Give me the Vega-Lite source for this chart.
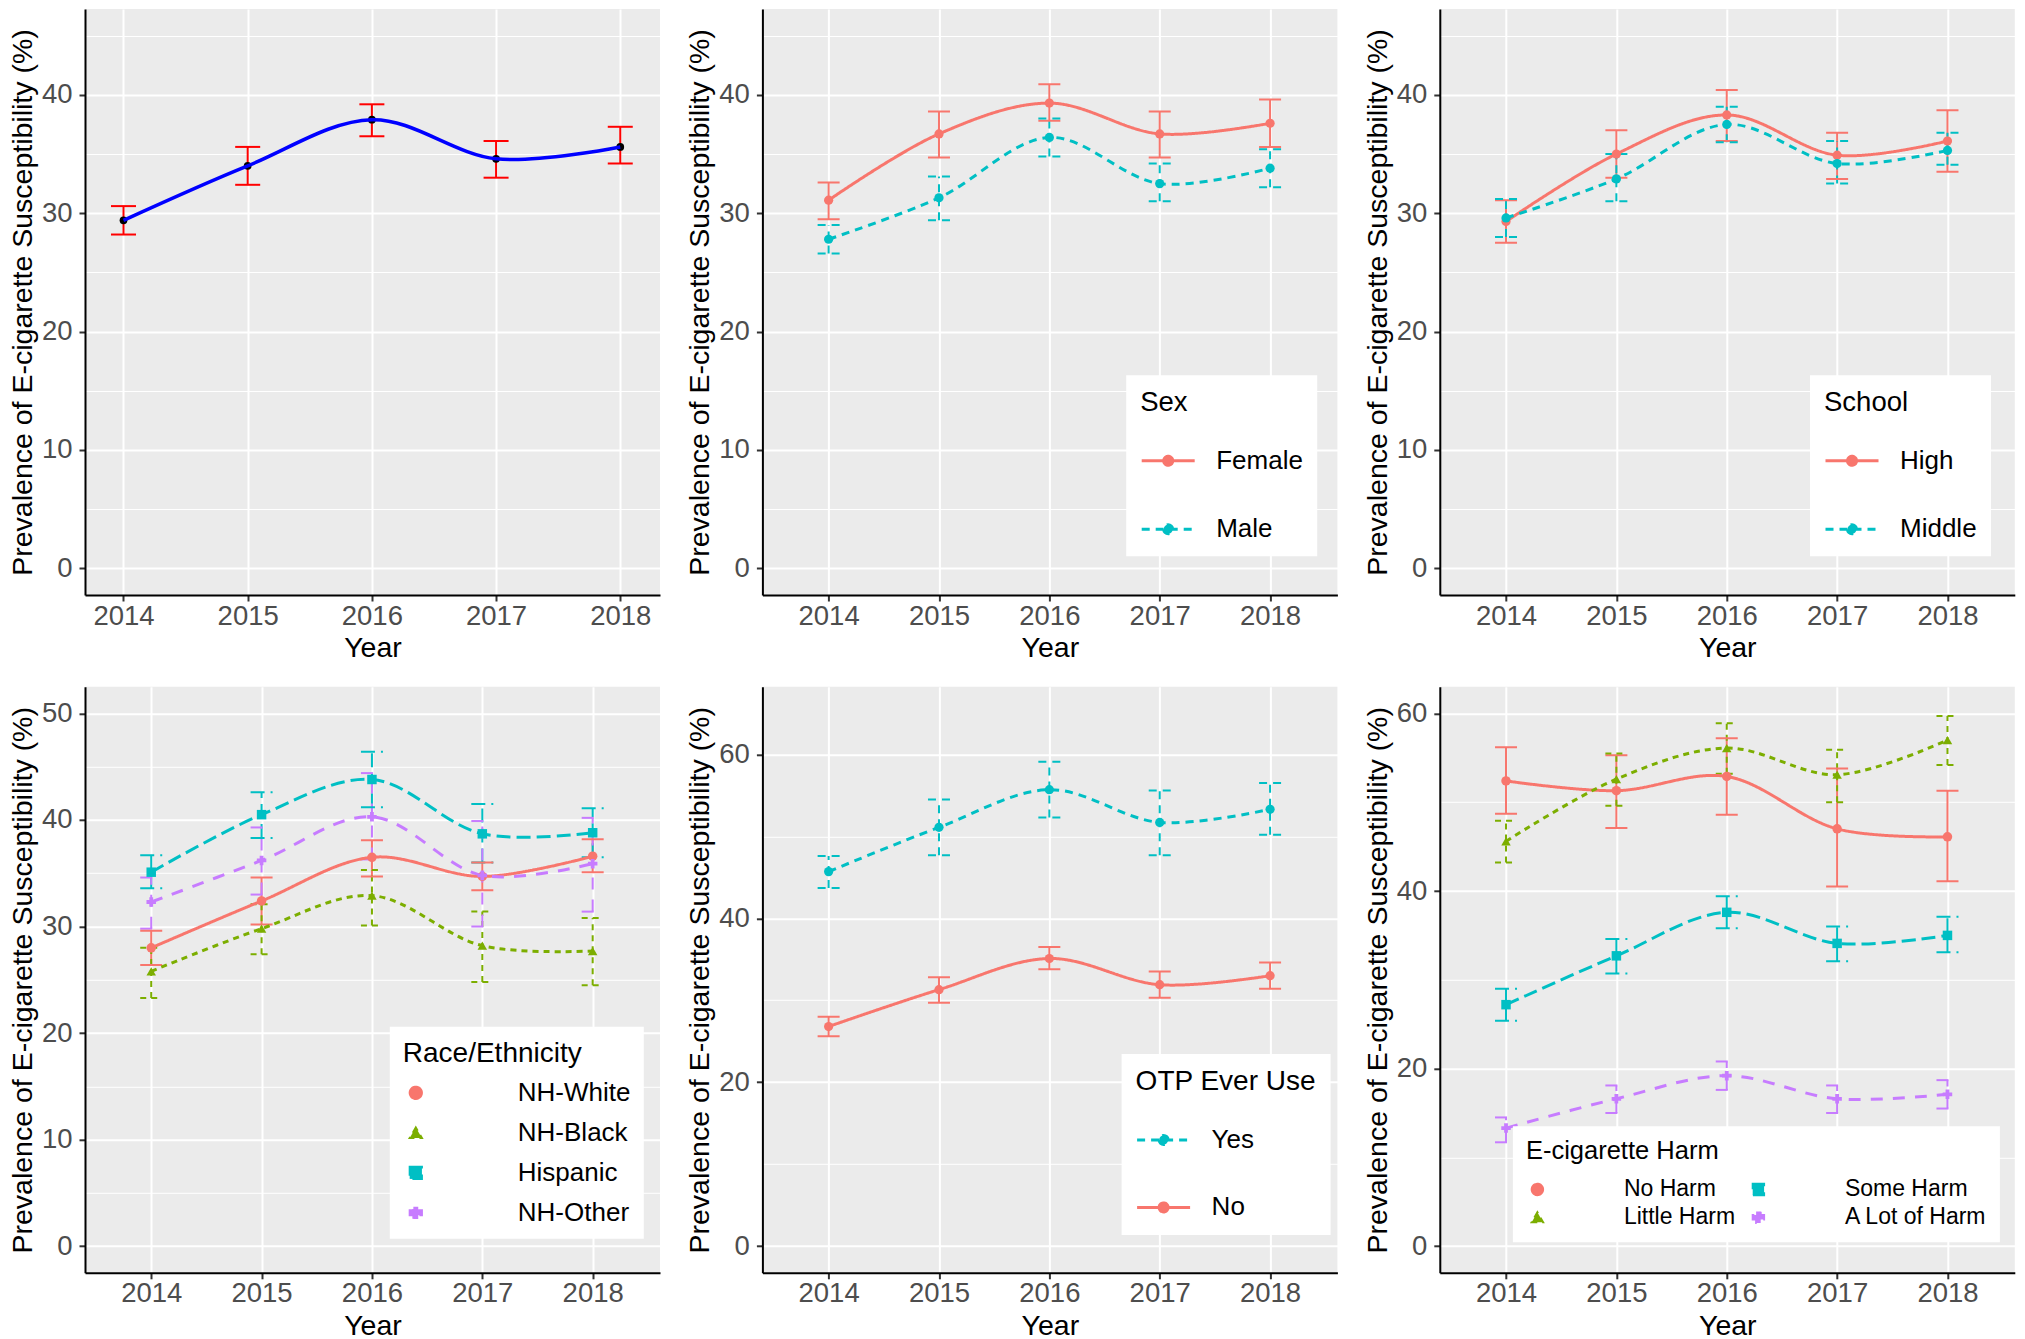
{
  "$schema": "https://vega.github.io/schema/vega-lite/v6.json",
  "background": "white",
  "padding": {"left": 8, "top": 9, "right": 10, "bottom": 2},
  "config": {
    "font": "Liberation Sans",
    "view": {"fill": "#EBEBEB", "stroke": null},
    "axis": {
      "domainColor": "black", "domainWidth": 2,
      "tickColor": "#333333", "tickSize": 6, "tickWidth": 2,
      "labelFontSize": 27.5, "labelColor": "#4D4D4D", "labelPadding": 7, "labelFont": "Liberation Sans",
      "titleFontSize": 28.5, "titleFontWeight": "normal", "titleColor": "black", "titleFont": "Liberation Sans",
      "gridColor": "white", "labelFlush": false, "labelOverlap": false
    },
    "axisX": {"titlePadding": 4, "labelPadding": 1},
    "axisY": {"titlePadding": 4},
    "legend": {
      "fillColor": "white", "titleFontWeight": "normal", "titleColor": "black", "labelColor": "black",
      "titleFont": "Liberation Sans", "labelFont": "Liberation Sans", "titleFontSize": 27.5, "labelFontSize": 26,
      "titleLimit": 600, "labelLimit": 600, "direction": "vertical", "symbolOpacity": 1
    }
  },
  "datasets": {
    "overall": [
      {"year": 2014, "est": 29.4, "lo": 28.2, "hi": 30.6},
      {"year": 2015, "est": 34.0, "lo": 32.4, "hi": 35.6},
      {"year": 2016, "est": 37.9, "lo": 36.5, "hi": 39.2},
      {"year": 2017, "est": 34.6, "lo": 33.0, "hi": 36.1},
      {"year": 2018, "est": 35.6, "lo": 34.2, "hi": 37.3}
    ],
    "sex": [
      {"group": "Female", "year": 2014, "est": 31.1, "lo": 29.5, "hi": 32.6},
      {"group": "Female", "year": 2015, "est": 36.7, "lo": 34.7, "hi": 38.6},
      {"group": "Female", "year": 2016, "est": 39.3, "lo": 37.8, "hi": 40.9},
      {"group": "Female", "year": 2017, "est": 36.7, "lo": 34.7, "hi": 38.6},
      {"group": "Female", "year": 2018, "est": 37.6, "lo": 35.6, "hi": 39.6},
      {"group": "Male", "year": 2014, "est": 27.8, "lo": 26.6, "hi": 29.0},
      {"group": "Male", "year": 2015, "est": 31.3, "lo": 29.4, "hi": 33.1},
      {"group": "Male", "year": 2016, "est": 36.4, "lo": 34.8, "hi": 38.0},
      {"group": "Male", "year": 2017, "est": 32.5, "lo": 31.0, "hi": 34.2},
      {"group": "Male", "year": 2018, "est": 33.8, "lo": 32.2, "hi": 35.4}
    ],
    "school": [
      {"group": "High", "year": 2014, "est": 29.3, "lo": 27.5, "hi": 31.1},
      {"group": "High", "year": 2015, "est": 35.0, "lo": 33.0, "hi": 37.0},
      {"group": "High", "year": 2016, "est": 38.3, "lo": 36.1, "hi": 40.4},
      {"group": "High", "year": 2017, "est": 34.9, "lo": 32.9, "hi": 36.8},
      {"group": "High", "year": 2018, "est": 36.1, "lo": 33.5, "hi": 38.7},
      {"group": "Middle", "year": 2014, "est": 29.6, "lo": 28.0, "hi": 31.2},
      {"group": "Middle", "year": 2015, "est": 32.9, "lo": 31.0, "hi": 35.0},
      {"group": "Middle", "year": 2016, "est": 37.5, "lo": 36.0, "hi": 39.0},
      {"group": "Middle", "year": 2017, "est": 34.2, "lo": 32.5, "hi": 36.1},
      {"group": "Middle", "year": 2018, "est": 35.3, "lo": 34.1, "hi": 36.8}
    ],
    "race": [
      {"group": "NH-White", "year": 2014, "est": 28.0, "lo": 26.4, "hi": 29.6},
      {"group": "NH-White", "year": 2015, "est": 32.4, "lo": 30.2, "hi": 34.6},
      {"group": "NH-White", "year": 2016, "est": 36.5, "lo": 34.7, "hi": 38.1},
      {"group": "NH-White", "year": 2017, "est": 34.7, "lo": 33.4, "hi": 36.0},
      {"group": "NH-White", "year": 2018, "est": 36.6, "lo": 35.1, "hi": 38.2},
      {"group": "NH-Black", "year": 2014, "est": 25.8, "lo": 23.3, "hi": 28.0},
      {"group": "NH-Black", "year": 2015, "est": 29.8, "lo": 27.4, "hi": 32.1},
      {"group": "NH-Black", "year": 2016, "est": 32.9, "lo": 30.1, "hi": 35.3},
      {"group": "NH-Black", "year": 2017, "est": 28.2, "lo": 24.8, "hi": 31.4},
      {"group": "NH-Black", "year": 2018, "est": 27.7, "lo": 24.5, "hi": 30.8},
      {"group": "Hispanic", "year": 2014, "est": 35.1, "lo": 33.6, "hi": 36.7},
      {"group": "Hispanic", "year": 2015, "est": 40.5, "lo": 38.3, "hi": 42.6},
      {"group": "Hispanic", "year": 2016, "est": 43.8, "lo": 41.2, "hi": 46.4},
      {"group": "Hispanic", "year": 2017, "est": 38.7, "lo": 36.0, "hi": 41.5},
      {"group": "Hispanic", "year": 2018, "est": 38.8, "lo": 36.5, "hi": 41.1},
      {"group": "NH-Other", "year": 2014, "est": 32.3, "lo": 29.8, "hi": 34.6},
      {"group": "NH-Other", "year": 2015, "est": 36.2, "lo": 33.0, "hi": 39.3},
      {"group": "NH-Other", "year": 2016, "est": 40.3, "lo": 36.3, "hi": 44.4},
      {"group": "NH-Other", "year": 2017, "est": 34.8, "lo": 30.0, "hi": 39.9},
      {"group": "NH-Other", "year": 2018, "est": 35.9, "lo": 31.4, "hi": 40.2}
    ],
    "otp": [
      {"group": "Yes", "year": 2014, "est": 45.7, "lo": 43.7, "hi": 47.6},
      {"group": "Yes", "year": 2015, "est": 51.1, "lo": 47.7, "hi": 54.5},
      {"group": "Yes", "year": 2016, "est": 55.7, "lo": 52.3, "hi": 59.1},
      {"group": "Yes", "year": 2017, "est": 51.7, "lo": 47.7, "hi": 55.6},
      {"group": "Yes", "year": 2018, "est": 53.3, "lo": 50.2, "hi": 56.5},
      {"group": "No", "year": 2014, "est": 26.8, "lo": 25.6, "hi": 28.0},
      {"group": "No", "year": 2015, "est": 31.3, "lo": 29.7, "hi": 32.8},
      {"group": "No", "year": 2016, "est": 35.1, "lo": 33.8, "hi": 36.5},
      {"group": "No", "year": 2017, "est": 31.9, "lo": 30.3, "hi": 33.5},
      {"group": "No", "year": 2018, "est": 33.0, "lo": 31.4, "hi": 34.6}
    ],
    "harm": [
      {"group": "No Harm", "year": 2014, "est": 52.4, "lo": 48.7, "hi": 56.2},
      {"group": "No Harm", "year": 2015, "est": 51.3, "lo": 47.1, "hi": 55.3},
      {"group": "No Harm", "year": 2016, "est": 52.9, "lo": 48.6, "hi": 57.2},
      {"group": "No Harm", "year": 2017, "est": 47.0, "lo": 40.5, "hi": 53.8},
      {"group": "No Harm", "year": 2018, "est": 46.1, "lo": 41.1, "hi": 51.3},
      {"group": "Little Harm", "year": 2014, "est": 45.6, "lo": 43.2, "hi": 47.9},
      {"group": "Little Harm", "year": 2015, "est": 52.6, "lo": 49.6, "hi": 55.5},
      {"group": "Little Harm", "year": 2016, "est": 56.1, "lo": 53.2, "hi": 58.9},
      {"group": "Little Harm", "year": 2017, "est": 53.1, "lo": 50.0, "hi": 55.9},
      {"group": "Little Harm", "year": 2018, "est": 57.0, "lo": 54.2, "hi": 59.7},
      {"group": "Some Harm", "year": 2014, "est": 27.2, "lo": 25.4, "hi": 29.0},
      {"group": "Some Harm", "year": 2015, "est": 32.7, "lo": 30.7, "hi": 34.6},
      {"group": "Some Harm", "year": 2016, "est": 37.6, "lo": 35.8, "hi": 39.4},
      {"group": "Some Harm", "year": 2017, "est": 34.1, "lo": 32.1, "hi": 36.0},
      {"group": "Some Harm", "year": 2018, "est": 35.0, "lo": 33.1, "hi": 37.1},
      {"group": "A Lot of Harm", "year": 2014, "est": 13.3, "lo": 11.7, "hi": 14.5},
      {"group": "A Lot of Harm", "year": 2015, "est": 16.6, "lo": 15.0, "hi": 18.1},
      {"group": "A Lot of Harm", "year": 2016, "est": 19.2, "lo": 17.6, "hi": 20.8},
      {"group": "A Lot of Harm", "year": 2017, "est": 16.6, "lo": 15.0, "hi": 18.1},
      {"group": "A Lot of Harm", "year": 2018, "est": 17.1, "lo": 15.5, "hi": 18.7}
    ]
  },
  "columns": 3,
  "bounds": "flush",
  "spacing": {"row": 91.8, "column": 102.4},
  "resolve": {
    "scale": {"x": "independent", "y": "independent", "color": "independent", "strokeDash": "independent", "shape": "independent"}
  },
  "concat": [
    {
      "width": 575, "height": 586,
      "data": {"name": "overall"},
      "encoding": {
        "x": {"field": "year", "type": "quantitative", "title": "Year", "scale": {"domain": [2013.69, 2018.32], "nice": false, "zero": false},
          "axis": {"values": [2014, 2014.5, 2015, 2015.5, 2016, 2016.5, 2017, 2017.5, 2018], "format": "d", "labelExpr": "datum.value % 1 === 0 ? datum.label : ''",
            "gridWidth": {"condition": {"test": "datum.value % 1 === 0", "value": 2}, "value": 1},
            "tickOpacity": {"condition": {"test": "datum.value % 1 === 0", "value": 1}, "value": 0}}}
      },
      "layer": [
        {
          "mark": {"type": "rule", "color": "#FF0000", "strokeWidth": 2},
          "encoding": {
            "y": {"field": "lo", "type": "quantitative", "title": "Prevalence of E-cigarette Susceptibility (%)", "scale": {"domain": [-2.25, 47.25], "nice": false, "zero": false},
              "axis": {"values": [0, 5, 10, 15, 20, 25, 30, 35, 40, 45], "labelExpr": "datum.value % 10 === 0 ? datum.label : ''",
                "gridWidth": {"condition": {"test": "datum.value % 10 === 0", "value": 2}, "value": 1},
                "tickOpacity": {"condition": {"test": "datum.value % 10 === 0", "value": 1}, "value": 0}}},
            "y2": {"field": "hi"}}
        },
        {
          "mark": {"type": "rule", "color": "#FF0000", "strokeWidth": 2, "xOffset": -12.5, "x2Offset": 12.5},
          "encoding": {"x2": {"field": "year"}, "y": {"field": "lo", "type": "quantitative", "title": "Prevalence of E-cigarette Susceptibility (%)"}}
        },
        {
          "mark": {"type": "rule", "color": "#FF0000", "strokeWidth": 2, "xOffset": -12.5, "x2Offset": 12.5},
          "encoding": {"x2": {"field": "year"}, "y": {"field": "hi", "type": "quantitative", "title": "Prevalence of E-cigarette Susceptibility (%)"}}
        },
        {
          "mark": {"type": "point", "filled": true, "color": "black", "size": 60, "opacity": 1},
          "encoding": {"y": {"field": "est", "type": "quantitative", "title": "Prevalence of E-cigarette Susceptibility (%)"}}
        },
        {
          "mark": {"type": "line", "color": "#0000FF", "strokeWidth": 3.5, "interpolate": "catmull-rom"},
          "encoding": {"y": {"field": "est", "type": "quantitative", "title": "Prevalence of E-cigarette Susceptibility (%)"}}
        }
      ]
    },
    {
      "width": 575, "height": 586,
      "data": {"name": "sex"},
      "encoding": {
        "x": {"field": "year", "type": "quantitative", "title": "Year", "scale": {"domain": [2013.4, 2018.61], "nice": false, "zero": false},
          "axis": {"values": [2014, 2014.5, 2015, 2015.5, 2016, 2016.5, 2017, 2017.5, 2018], "format": "d", "labelExpr": "datum.value % 1 === 0 ? datum.label : ''",
            "gridWidth": {"condition": {"test": "datum.value % 1 === 0", "value": 2}, "value": 1},
            "tickOpacity": {"condition": {"test": "datum.value % 1 === 0", "value": 1}, "value": 0}}}
      },
      "layer": [
        {
          "mark": {"type": "rule", "strokeWidth": 2},
          "encoding": {
            "y": {"field": "lo", "type": "quantitative", "title": "Prevalence of E-cigarette Susceptibility (%)", "scale": {"domain": [-2.25, 47.25], "nice": false, "zero": false},
              "axis": {"values": [0, 5, 10, 15, 20, 25, 30, 35, 40, 45], "labelExpr": "datum.value % 10 === 0 ? datum.label : ''",
                "gridWidth": {"condition": {"test": "datum.value % 10 === 0", "value": 2}, "value": 1},
                "tickOpacity": {"condition": {"test": "datum.value % 10 === 0", "value": 1}, "value": 0}}},
            "y2": {"field": "hi"},
            "color": {"field": "group", "type": "nominal", "title": "Sex", "scale": {"domain": ["Female", "Male"], "range": ["#F8766D", "#00BFC4"]}},
            "strokeDash": {"field": "group", "type": "nominal", "title": "Sex", "scale": {"domain": ["Female", "Male"], "range": [[1, 0], [8, 6]]}}}
        },
        {
          "mark": {"type": "rule", "strokeWidth": 2, "xOffset": -11, "x2Offset": 11},
          "encoding": {"x2": {"field": "year"}, "y": {"field": "lo", "type": "quantitative", "title": "Prevalence of E-cigarette Susceptibility (%)"},
            "color": {"field": "group", "type": "nominal", "title": "Sex", "scale": {"domain": ["Female", "Male"], "range": ["#F8766D", "#00BFC4"]}},
            "strokeDash": {"field": "group", "type": "nominal", "title": "Sex", "scale": {"domain": ["Female", "Male"], "range": [[1, 0], [8, 6]]}}}
        },
        {
          "mark": {"type": "rule", "strokeWidth": 2, "xOffset": -11, "x2Offset": 11},
          "encoding": {"x2": {"field": "year"}, "y": {"field": "hi", "type": "quantitative", "title": "Prevalence of E-cigarette Susceptibility (%)"},
            "color": {"field": "group", "type": "nominal", "title": "Sex", "scale": {"domain": ["Female", "Male"], "range": ["#F8766D", "#00BFC4"]}},
            "strokeDash": {"field": "group", "type": "nominal", "title": "Sex", "scale": {"domain": ["Female", "Male"], "range": [[1, 0], [8, 6]]}}}
        },
        {
          "mark": {"type": "line", "strokeWidth": 3, "interpolate": "catmull-rom"},
          "encoding": {"y": {"field": "est", "type": "quantitative", "title": "Prevalence of E-cigarette Susceptibility (%)"},
            "color": {"field": "group", "type": "nominal", "title": "Sex", "scale": {"domain": ["Female", "Male"], "range": ["#F8766D", "#00BFC4"]},
              "legend": {"title": "Sex", "orient": "none", "legendX": 363.8, "legendY": 366.3, "padding": 14, "titlePadding": 16, "symbolType": "M-1,0H1M-0.17,0A0.17,0.17,0,1,0,0.17,0A0.17,0.17,0,1,0,-0.17,0Z", "symbolSize": 2809, "symbolStrokeWidth": 3, "rowPadding": 27.5, "labelOffset": 20}},
            "strokeDash": {"field": "group", "type": "nominal", "title": "Sex", "scale": {"domain": ["Female", "Male"], "range": [[1, 0], [8, 6]]}}}
        },
        {
          "mark": {"type": "point", "filled": true, "size": 85, "opacity": 1},
          "encoding": {"y": {"field": "est", "type": "quantitative", "title": "Prevalence of E-cigarette Susceptibility (%)"},
            "color": {"field": "group", "type": "nominal", "title": "Sex", "scale": {"domain": ["Female", "Male"], "range": ["#F8766D", "#00BFC4"]}}}
        }
      ]
    },
    {
      "width": 575, "height": 586,
      "data": {"name": "school"},
      "encoding": {
        "x": {"field": "year", "type": "quantitative", "title": "Year", "scale": {"domain": [2013.4, 2018.61], "nice": false, "zero": false},
          "axis": {"values": [2014, 2014.5, 2015, 2015.5, 2016, 2016.5, 2017, 2017.5, 2018], "format": "d", "labelExpr": "datum.value % 1 === 0 ? datum.label : ''",
            "gridWidth": {"condition": {"test": "datum.value % 1 === 0", "value": 2}, "value": 1},
            "tickOpacity": {"condition": {"test": "datum.value % 1 === 0", "value": 1}, "value": 0}}}
      },
      "layer": [
        {
          "mark": {"type": "rule", "strokeWidth": 2},
          "encoding": {
            "y": {"field": "lo", "type": "quantitative", "title": "Prevalence of E-cigarette Susceptibility (%)", "scale": {"domain": [-2.25, 47.25], "nice": false, "zero": false},
              "axis": {"values": [0, 5, 10, 15, 20, 25, 30, 35, 40, 45], "labelExpr": "datum.value % 10 === 0 ? datum.label : ''",
                "gridWidth": {"condition": {"test": "datum.value % 10 === 0", "value": 2}, "value": 1},
                "tickOpacity": {"condition": {"test": "datum.value % 10 === 0", "value": 1}, "value": 0}}},
            "y2": {"field": "hi"},
            "color": {"field": "group", "type": "nominal", "title": "School", "scale": {"domain": ["High", "Middle"], "range": ["#F8766D", "#00BFC4"]}},
            "strokeDash": {"field": "group", "type": "nominal", "title": "School", "scale": {"domain": ["High", "Middle"], "range": [[1, 0], [8, 6]]}}}
        },
        {
          "mark": {"type": "rule", "strokeWidth": 2, "xOffset": -11, "x2Offset": 11},
          "encoding": {"x2": {"field": "year"}, "y": {"field": "lo", "type": "quantitative", "title": "Prevalence of E-cigarette Susceptibility (%)"},
            "color": {"field": "group", "type": "nominal", "title": "School", "scale": {"domain": ["High", "Middle"], "range": ["#F8766D", "#00BFC4"]}},
            "strokeDash": {"field": "group", "type": "nominal", "title": "School", "scale": {"domain": ["High", "Middle"], "range": [[1, 0], [8, 6]]}}}
        },
        {
          "mark": {"type": "rule", "strokeWidth": 2, "xOffset": -11, "x2Offset": 11},
          "encoding": {"x2": {"field": "year"}, "y": {"field": "hi", "type": "quantitative", "title": "Prevalence of E-cigarette Susceptibility (%)"},
            "color": {"field": "group", "type": "nominal", "title": "School", "scale": {"domain": ["High", "Middle"], "range": ["#F8766D", "#00BFC4"]}},
            "strokeDash": {"field": "group", "type": "nominal", "title": "School", "scale": {"domain": ["High", "Middle"], "range": [[1, 0], [8, 6]]}}}
        },
        {
          "mark": {"type": "line", "strokeWidth": 3, "interpolate": "catmull-rom"},
          "encoding": {"y": {"field": "est", "type": "quantitative", "title": "Prevalence of E-cigarette Susceptibility (%)"},
            "color": {"field": "group", "type": "nominal", "title": "School", "scale": {"domain": ["High", "Middle"], "range": ["#F8766D", "#00BFC4"]},
              "legend": {"title": "School", "orient": "none", "legendX": 370.2, "legendY": 366.3, "padding": 14, "titlePadding": 16, "symbolType": "M-1,0H1M-0.17,0A0.17,0.17,0,1,0,0.17,0A0.17,0.17,0,1,0,-0.17,0Z", "symbolSize": 2809, "symbolStrokeWidth": 3, "rowPadding": 27.5, "labelOffset": 20}},
            "strokeDash": {"field": "group", "type": "nominal", "title": "School", "scale": {"domain": ["High", "Middle"], "range": [[1, 0], [8, 6]]}}}
        },
        {
          "mark": {"type": "point", "filled": true, "size": 85, "opacity": 1},
          "encoding": {"y": {"field": "est", "type": "quantitative", "title": "Prevalence of E-cigarette Susceptibility (%)"},
            "color": {"field": "group", "type": "nominal", "title": "School", "scale": {"domain": ["High", "Middle"], "range": ["#F8766D", "#00BFC4"]}}}
        }
      ]
    },
    {
      "width": 575, "height": 586,
      "data": {"name": "race"},
      "encoding": {
        "x": {"field": "year", "type": "quantitative", "title": "Year", "scale": {"domain": [2013.4, 2018.61], "nice": false, "zero": false},
          "axis": {"values": [2014, 2014.5, 2015, 2015.5, 2016, 2016.5, 2017, 2017.5, 2018], "format": "d", "labelExpr": "datum.value % 1 === 0 ? datum.label : ''",
            "gridWidth": {"condition": {"test": "datum.value % 1 === 0", "value": 2}, "value": 1},
            "tickOpacity": {"condition": {"test": "datum.value % 1 === 0", "value": 1}, "value": 0}}}
      },
      "layer": [
        {
          "mark": {"type": "rule", "strokeWidth": 2},
          "encoding": {
            "y": {"field": "lo", "type": "quantitative", "title": "Prevalence of E-cigarette Susceptibility (%)", "scale": {"domain": [-2.5, 52.5], "nice": false, "zero": false},
              "axis": {"values": [0, 5, 10, 15, 20, 25, 30, 35, 40, 45, 50], "labelExpr": "datum.value % 10 === 0 ? datum.label : ''",
                "gridWidth": {"condition": {"test": "datum.value % 10 === 0", "value": 2}, "value": 1},
                "tickOpacity": {"condition": {"test": "datum.value % 10 === 0", "value": 1}, "value": 0}}},
            "y2": {"field": "hi"},
            "color": {"field": "group", "type": "nominal", "title": "Race/Ethnicity", "scale": {"domain": ["NH-White", "NH-Black", "Hispanic", "NH-Other"], "range": ["#F8766D", "#7CAE00", "#00BFC4", "#C77CFF"]}},
            "strokeDash": {"field": "group", "type": "nominal", "title": "Race/Ethnicity", "scale": {"domain": ["NH-White", "NH-Black", "Hispanic", "NH-Other"], "range": [[1, 0], [6, 5], [14, 6], [12, 10]]}}}
        },
        {
          "mark": {"type": "rule", "strokeWidth": 2, "xOffset": -11, "x2Offset": 11},
          "encoding": {"x2": {"field": "year"}, "y": {"field": "lo", "type": "quantitative", "title": "Prevalence of E-cigarette Susceptibility (%)"},
            "color": {"field": "group", "type": "nominal", "title": "Race/Ethnicity", "scale": {"domain": ["NH-White", "NH-Black", "Hispanic", "NH-Other"], "range": ["#F8766D", "#7CAE00", "#00BFC4", "#C77CFF"]}},
            "strokeDash": {"field": "group", "type": "nominal", "title": "Race/Ethnicity", "scale": {"domain": ["NH-White", "NH-Black", "Hispanic", "NH-Other"], "range": [[1, 0], [6, 5], [14, 6], [12, 10]]}}}
        },
        {
          "mark": {"type": "rule", "strokeWidth": 2, "xOffset": -11, "x2Offset": 11},
          "encoding": {"x2": {"field": "year"}, "y": {"field": "hi", "type": "quantitative", "title": "Prevalence of E-cigarette Susceptibility (%)"},
            "color": {"field": "group", "type": "nominal", "title": "Race/Ethnicity", "scale": {"domain": ["NH-White", "NH-Black", "Hispanic", "NH-Other"], "range": ["#F8766D", "#7CAE00", "#00BFC4", "#C77CFF"]}},
            "strokeDash": {"field": "group", "type": "nominal", "title": "Race/Ethnicity", "scale": {"domain": ["NH-White", "NH-Black", "Hispanic", "NH-Other"], "range": [[1, 0], [6, 5], [14, 6], [12, 10]]}}}
        },
        {
          "mark": {"type": "line", "strokeWidth": 3, "interpolate": "catmull-rom"},
          "encoding": {"y": {"field": "est", "type": "quantitative", "title": "Prevalence of E-cigarette Susceptibility (%)"},
            "color": {"field": "group", "type": "nominal", "title": "Race/Ethnicity", "scale": {"domain": ["NH-White", "NH-Black", "Hispanic", "NH-Other"], "range": ["#F8766D", "#7CAE00", "#00BFC4", "#C77CFF"]},
              "legend": {"title": "Race/Ethnicity", "orient": "none", "legendX": 304.8, "legendY": 340, "padding": 13, "titlePadding": 12, "titleFontSize": 28, "symbolSize": 150, "symbolStrokeWidth": 2, "rowPadding": 14, "labelOffset": 89}},
            "strokeDash": {"field": "group", "type": "nominal", "title": "Race/Ethnicity", "scale": {"domain": ["NH-White", "NH-Black", "Hispanic", "NH-Other"], "range": [[1, 0], [6, 5], [14, 6], [12, 10]]}}}
        },
        {
          "mark": {"type": "point", "filled": true, "size": 90, "opacity": 1},
          "encoding": {"y": {"field": "est", "type": "quantitative", "title": "Prevalence of E-cigarette Susceptibility (%)"},
            "color": {"field": "group", "type": "nominal", "title": "Race/Ethnicity", "scale": {"domain": ["NH-White", "NH-Black", "Hispanic", "NH-Other"], "range": ["#F8766D", "#7CAE00", "#00BFC4", "#C77CFF"]}},
            "shape": {"field": "group", "type": "nominal", "title": "Race/Ethnicity", "scale": {"domain": ["NH-White", "NH-Black", "Hispanic", "NH-Other"], "range": ["circle", "triangle-up", "square", "cross"]}}}
        }
      ]
    },
    {
      "width": 575, "height": 586,
      "data": {"name": "otp"},
      "encoding": {
        "x": {"field": "year", "type": "quantitative", "title": "Year", "scale": {"domain": [2013.4, 2018.61], "nice": false, "zero": false},
          "axis": {"values": [2014, 2014.5, 2015, 2015.5, 2016, 2016.5, 2017, 2017.5, 2018], "format": "d", "labelExpr": "datum.value % 1 === 0 ? datum.label : ''",
            "gridWidth": {"condition": {"test": "datum.value % 1 === 0", "value": 2}, "value": 1},
            "tickOpacity": {"condition": {"test": "datum.value % 1 === 0", "value": 1}, "value": 0}}}
      },
      "layer": [
        {
          "mark": {"type": "rule", "strokeWidth": 2},
          "encoding": {
            "y": {"field": "lo", "type": "quantitative", "title": "Prevalence of E-cigarette Susceptibility (%)", "scale": {"domain": [-3.25, 68.25], "nice": false, "zero": false},
              "axis": {"values": [0, 10, 20, 30, 40, 50, 60], "labelExpr": "datum.value % 20 === 0 ? datum.label : ''",
                "gridWidth": {"condition": {"test": "datum.value % 20 === 0", "value": 2}, "value": 1},
                "tickOpacity": {"condition": {"test": "datum.value % 20 === 0", "value": 1}, "value": 0}}},
            "y2": {"field": "hi"},
            "color": {"field": "group", "type": "nominal", "title": "OTP Ever Use", "scale": {"domain": ["Yes", "No"], "range": ["#00BFC4", "#F8766D"]}},
            "strokeDash": {"field": "group", "type": "nominal", "title": "OTP Ever Use", "scale": {"domain": ["Yes", "No"], "range": [[8, 6], [1, 0]]}}}
        },
        {
          "mark": {"type": "rule", "strokeWidth": 2, "xOffset": -11, "x2Offset": 11},
          "encoding": {"x2": {"field": "year"}, "y": {"field": "lo", "type": "quantitative", "title": "Prevalence of E-cigarette Susceptibility (%)"},
            "color": {"field": "group", "type": "nominal", "title": "OTP Ever Use", "scale": {"domain": ["Yes", "No"], "range": ["#00BFC4", "#F8766D"]}},
            "strokeDash": {"field": "group", "type": "nominal", "title": "OTP Ever Use", "scale": {"domain": ["Yes", "No"], "range": [[8, 6], [1, 0]]}}}
        },
        {
          "mark": {"type": "rule", "strokeWidth": 2, "xOffset": -11, "x2Offset": 11},
          "encoding": {"x2": {"field": "year"}, "y": {"field": "hi", "type": "quantitative", "title": "Prevalence of E-cigarette Susceptibility (%)"},
            "color": {"field": "group", "type": "nominal", "title": "OTP Ever Use", "scale": {"domain": ["Yes", "No"], "range": ["#00BFC4", "#F8766D"]}},
            "strokeDash": {"field": "group", "type": "nominal", "title": "OTP Ever Use", "scale": {"domain": ["Yes", "No"], "range": [[8, 6], [1, 0]]}}}
        },
        {
          "mark": {"type": "line", "strokeWidth": 3, "interpolate": "catmull-rom"},
          "encoding": {"y": {"field": "est", "type": "quantitative", "title": "Prevalence of E-cigarette Susceptibility (%)"},
            "color": {"field": "group", "type": "nominal", "title": "OTP Ever Use", "scale": {"domain": ["Yes", "No"], "range": ["#00BFC4", "#F8766D"]},
              "legend": {"title": "OTP Ever Use", "orient": "none", "legendX": 359.2, "legendY": 367.1, "padding": 14, "titlePadding": 16, "titleFontSize": 28, "symbolType": "M-1,0H1M-0.17,0A0.17,0.17,0,1,0,0.17,0A0.17,0.17,0,1,0,-0.17,0Z", "symbolSize": 2809, "symbolStrokeWidth": 3, "rowPadding": 26.5, "labelOffset": 20}},
            "strokeDash": {"field": "group", "type": "nominal", "title": "OTP Ever Use", "scale": {"domain": ["Yes", "No"], "range": [[8, 6], [1, 0]]}}}
        },
        {
          "mark": {"type": "point", "filled": true, "size": 85, "opacity": 1},
          "encoding": {"y": {"field": "est", "type": "quantitative", "title": "Prevalence of E-cigarette Susceptibility (%)"},
            "color": {"field": "group", "type": "nominal", "title": "OTP Ever Use", "scale": {"domain": ["Yes", "No"], "range": ["#00BFC4", "#F8766D"]}}}
        }
      ]
    },
    {
      "width": 575, "height": 586,
      "data": {"name": "harm"},
      "encoding": {
        "x": {"field": "year", "type": "quantitative", "title": "Year", "scale": {"domain": [2013.4, 2018.61], "nice": false, "zero": false},
          "axis": {"values": [2014, 2014.5, 2015, 2015.5, 2016, 2016.5, 2017, 2017.5, 2018], "format": "d", "labelExpr": "datum.value % 1 === 0 ? datum.label : ''",
            "gridWidth": {"condition": {"test": "datum.value % 1 === 0", "value": 2}, "value": 1},
            "tickOpacity": {"condition": {"test": "datum.value % 1 === 0", "value": 1}, "value": 0}}}
      },
      "layer": [
        {
          "mark": {"type": "rule", "strokeWidth": 2},
          "encoding": {
            "y": {"field": "lo", "type": "quantitative", "title": "Prevalence of E-cigarette Susceptibility (%)", "scale": {"domain": [-3, 63], "nice": false, "zero": false},
              "axis": {"values": [0, 10, 20, 30, 40, 50, 60], "labelExpr": "datum.value % 20 === 0 ? datum.label : ''",
                "gridWidth": {"condition": {"test": "datum.value % 20 === 0", "value": 2}, "value": 1},
                "tickOpacity": {"condition": {"test": "datum.value % 20 === 0", "value": 1}, "value": 0}}},
            "y2": {"field": "hi"},
            "color": {"field": "group", "type": "nominal", "title": "E-cigarette Harm", "scale": {"domain": ["No Harm", "Little Harm", "Some Harm", "A Lot of Harm"], "range": ["#F8766D", "#7CAE00", "#00BFC4", "#C77CFF"]}},
            "strokeDash": {"field": "group", "type": "nominal", "title": "E-cigarette Harm", "scale": {"domain": ["No Harm", "Little Harm", "Some Harm", "A Lot of Harm"], "range": [[1, 0], [6, 5], [14, 6], [12, 10]]}}}
        },
        {
          "mark": {"type": "rule", "strokeWidth": 2, "xOffset": -11, "x2Offset": 11},
          "encoding": {"x2": {"field": "year"}, "y": {"field": "lo", "type": "quantitative", "title": "Prevalence of E-cigarette Susceptibility (%)"},
            "color": {"field": "group", "type": "nominal", "title": "E-cigarette Harm", "scale": {"domain": ["No Harm", "Little Harm", "Some Harm", "A Lot of Harm"], "range": ["#F8766D", "#7CAE00", "#00BFC4", "#C77CFF"]}},
            "strokeDash": {"field": "group", "type": "nominal", "title": "E-cigarette Harm", "scale": {"domain": ["No Harm", "Little Harm", "Some Harm", "A Lot of Harm"], "range": [[1, 0], [6, 5], [14, 6], [12, 10]]}}}
        },
        {
          "mark": {"type": "rule", "strokeWidth": 2, "xOffset": -11, "x2Offset": 11},
          "encoding": {"x2": {"field": "year"}, "y": {"field": "hi", "type": "quantitative", "title": "Prevalence of E-cigarette Susceptibility (%)"},
            "color": {"field": "group", "type": "nominal", "title": "E-cigarette Harm", "scale": {"domain": ["No Harm", "Little Harm", "Some Harm", "A Lot of Harm"], "range": ["#F8766D", "#7CAE00", "#00BFC4", "#C77CFF"]}},
            "strokeDash": {"field": "group", "type": "nominal", "title": "E-cigarette Harm", "scale": {"domain": ["No Harm", "Little Harm", "Some Harm", "A Lot of Harm"], "range": [[1, 0], [6, 5], [14, 6], [12, 10]]}}}
        },
        {
          "mark": {"type": "line", "strokeWidth": 3, "interpolate": "catmull-rom"},
          "encoding": {"y": {"field": "est", "type": "quantitative", "title": "Prevalence of E-cigarette Susceptibility (%)"},
            "color": {"field": "group", "type": "nominal", "title": "E-cigarette Harm", "scale": {"domain": ["No Harm", "Little Harm", "Some Harm", "A Lot of Harm"], "range": ["#F8766D", "#7CAE00", "#00BFC4", "#C77CFF"]},
              "legend": {"title": "E-cigarette Harm", "orient": "none", "legendX": 73.1, "legendY": 439.4, "padding": 13, "titlePadding": 13, "titleFontSize": 25.5, "labelFontSize": 23, "symbolSize": 130, "symbolStrokeWidth": 2, "rowPadding": 4, "labelOffset": 75, "columns": 2, "columnPadding": 11}},
            "strokeDash": {"field": "group", "type": "nominal", "title": "E-cigarette Harm", "scale": {"domain": ["No Harm", "Little Harm", "Some Harm", "A Lot of Harm"], "range": [[1, 0], [6, 5], [14, 6], [12, 10]]}}}
        },
        {
          "mark": {"type": "point", "filled": true, "size": 90, "opacity": 1},
          "encoding": {"y": {"field": "est", "type": "quantitative", "title": "Prevalence of E-cigarette Susceptibility (%)"},
            "color": {"field": "group", "type": "nominal", "title": "E-cigarette Harm", "scale": {"domain": ["No Harm", "Little Harm", "Some Harm", "A Lot of Harm"], "range": ["#F8766D", "#7CAE00", "#00BFC4", "#C77CFF"]}},
            "shape": {"field": "group", "type": "nominal", "title": "E-cigarette Harm", "scale": {"domain": ["No Harm", "Little Harm", "Some Harm", "A Lot of Harm"], "range": ["circle", "triangle-up", "square", "cross"]}}}
        }
      ]
    }
  ]
}
